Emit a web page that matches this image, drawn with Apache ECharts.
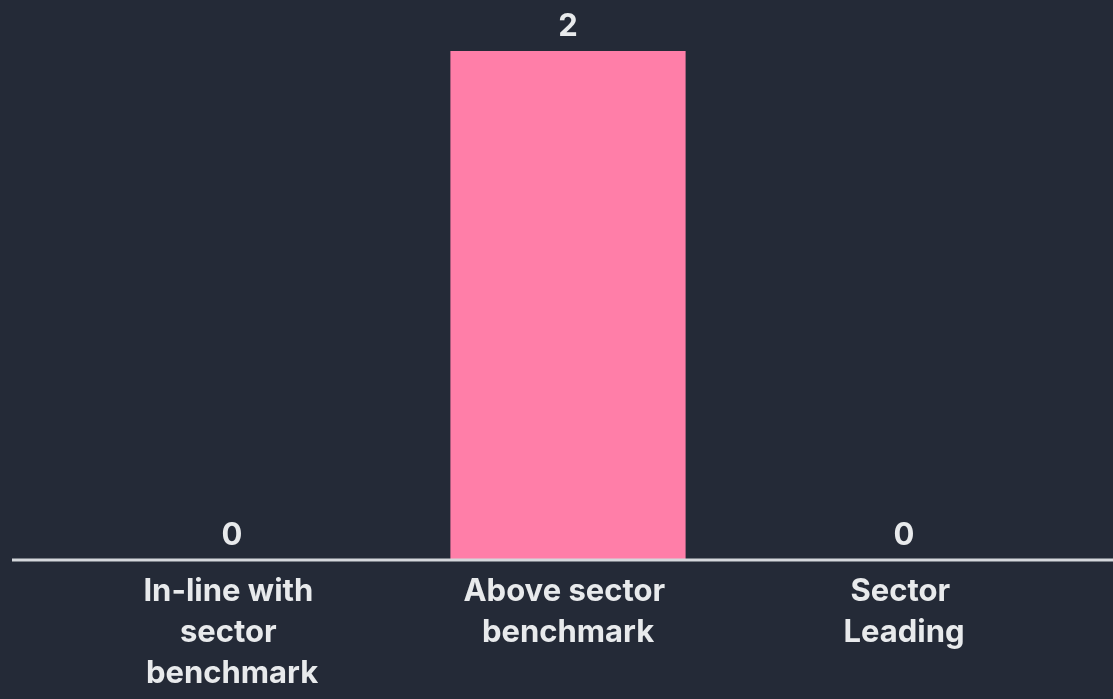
<!DOCTYPE html>
<html>
<head>
<meta charset="utf-8">
<script src="https://cdn.jsdelivr.net/npm/echarts@6/dist/echarts.min.js"></script>
<style>
  html, body { margin: 0; padding: 0; background: #242a37; }
  #chart { width: 1113px; height: 699px; }
</style>
</head>
<body>
<div id="chart"></div>
<script>
var categories = ['In-line with sector benchmark', 'Above sector benchmark', 'Sector Leading'];
var counts = [0, 2, 0];

var myChart = echarts.init(document.getElementById('chart'));
var textFont = 'Inter, "Noto Sans", sans-serif';

var option = {
    backgroundColor: '#242a37',
    grid: { left: 64, right: 41, top: 51, bottom: 139 },
    xAxis: {
        type: 'category',
        data: categories,
        axisTick: { show: false },
        axisLine: { show: false },
        axisLabel: {
            color: '#e8eaec',
            fontFamily: textFont,
            fontWeight: 'bold',
            fontSize: 31,
            lineHeight: 41,
            margin: 11,
            width: 215,
            overflow: 'break',
            interval: 0
        }
    },
    yAxis: {
        type: 'value',
        min: 0,
        max: 2,
        show: false,
        splitLine: { show: false }
    },
    series: [{
        type: 'bar',
        data: counts,
        barWidth: '70%',
        itemStyle: { color: '#ff7ea8' },
        label: {
            show: true,
            position: 'top',
            distance: 9,
            color: '#e8eaec',
            fontFamily: textFont,
            fontWeight: 'bold',
            fontSize: 31
        }
    }],
    graphic: [{
        type: 'line',
        shape: { x1: 12, y1: 560, x2: 1113, y2: 560 },
        style: { stroke: '#d4d7db', lineWidth: 3 },
        z: 10
    }]
};

myChart.setOption(option);
</script>
</body>
</html>
